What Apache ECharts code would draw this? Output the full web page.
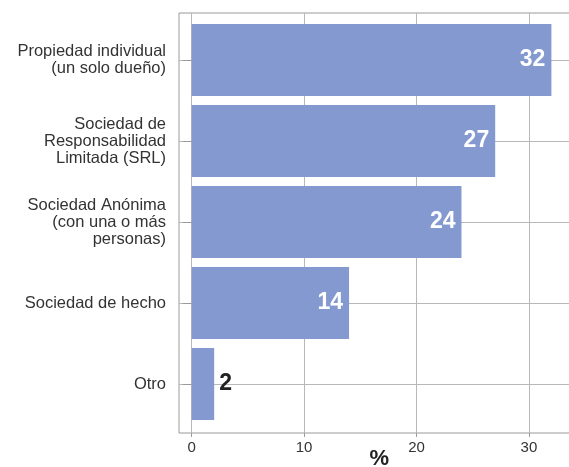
<!DOCTYPE html>
<html>
<head>
<meta charset="utf-8">
<script src="https://cdn.jsdelivr.net/npm/echarts@6/dist/echarts.min.js"></script>
<style>
  html, body { margin: 0; padding: 0; background: #fff; }
  #chart { width: 569px; height: 467px; }
</style>
</head>
<body>
<div id="chart"></div>
<script>
// Company legal forms, share of respondents (%)
const categories = [
  'Propiedad individual\n(un solo dueño)',
  'Sociedad de\nResponsabilidad\nLimitada (SRL)',
  'Sociedad Anónima\n(con una o más\npersonas)',
  'Sociedad de hecho',
  'Otro'
];
const values = [32, 27, 24, 14, 2];
const xTickValues = [0, 10, 20, 30];
const xAxisName = '%';

const FONT = '"Liberation Sans", Arial, sans-serif';
const BAR_COLOR = '#8399d0';
const X_MIN = -1.13, X_MAX = 34.5;

const barData = values.map((v) => {
  const item = { value: v };
  if (v < 5) {
    item.label = { position: 'right', distance: 5, color: '#222' };
  }
  return item;
});

const chart = echarts.init(document.getElementById('chart'), null, { renderer: 'canvas' });
chart.setOption({
  animation: false,
  backgroundColor: '#fff',
  grid: [
    // outer frame with vertical gridlines and the % axis
    { left: 179, top: 13, width: 400.5, height: 420, show: true,
      borderColor: '#9a9a9a', borderWidth: 1, backgroundColor: 'transparent',
      outerBoundsMode: 'none' },
    // bars, category positions at the first and last row centres
    { left: 179, top: 60, width: 400.5, height: 324, outerBoundsMode: 'none' }
  ],
  xAxis: [
    {
      gridIndex: 0, type: 'value', min: X_MIN, max: X_MAX,
      axisLine: { show: false },
      axisTick: { show: true, length: 4, customValues: xTickValues,
        lineStyle: { color: '#9a9a9a' } },
      axisLabel: { customValues: xTickValues, margin: 7, fontSize: 15,
        color: '#333', fontFamily: FONT },
      splitLine: { show: true, lineStyle: { color: '#b8b8b8', width: 1 } },
      name: xAxisName, nameLocation: 'middle', nameGap: 15,
      nameMoveOverlap: false,
      nameTextStyle: { fontSize: 22, fontWeight: 'bold', color: '#222', fontFamily: FONT }
    },
    {
      gridIndex: 1, type: 'value', min: X_MIN, max: X_MAX, show: false,
      splitLine: { show: false }
    }
  ],
  yAxis: [
    { gridIndex: 0, type: 'value', show: false, splitLine: { show: false } },
    {
      gridIndex: 1, type: 'category', data: categories, inverse: true,
      boundaryGap: false,
      axisLine: { show: false },
      axisTick: { show: true, length: 9, lineStyle: { color: '#9a9a9a' } },
      axisLabel: { margin: 13, fontSize: 16.5, lineHeight: 17, color: '#333',
        fontFamily: FONT, align: 'right' },
      splitLine: { show: true, lineStyle: { color: '#b8b8b8', width: 1 } }
    }
  ],
  series: [{
    type: 'bar',
    xAxisIndex: 1, yAxisIndex: 1,
    data: barData,
    barWidth: 72,
    clip: false,
    itemStyle: { color: BAR_COLOR },
    label: {
      show: true, position: 'insideRight', distance: 6,
      color: '#fff', fontSize: 23, fontWeight: 'bold', fontFamily: FONT
    }
  }]
});
</script>
</body>
</html>
